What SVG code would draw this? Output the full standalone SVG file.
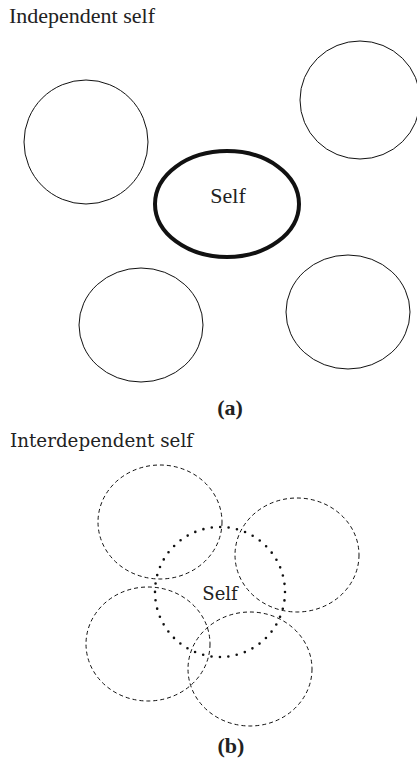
<svg xmlns="http://www.w3.org/2000/svg" width="417" height="763" viewBox="0 0 417 763">
<style>
.t{font-family:"Liberation Serif",serif;fill:#222}
.c{font-family:"DejaVu Serif",serif;fill:#222}
.o{fill:none;stroke:#111;stroke-width:1}
.d{fill:none;stroke:#111;stroke-width:1;stroke-dasharray:4 3}
</style>
<rect width="417" height="763" fill="#fff"/>
<text class="t" x="9" y="23" font-size="22">Independent self</text>
<g id="a-left"><ellipse class="o" cx="86" cy="142" rx="62" ry="62"/></g>
<g id="a-topright"><ellipse class="o" cx="360" cy="100" rx="60" ry="59"/></g>
<g id="a-self"><ellipse cx="227" cy="204" rx="72" ry="53" fill="none" stroke="#111" stroke-width="4"/><text class="t" x="228" y="203" font-size="22" text-anchor="middle">Self</text></g>
<g id="a-bottomleft"><ellipse class="o" cx="141" cy="325" rx="62" ry="57"/></g>
<g id="a-bottomright"><ellipse class="o" cx="348" cy="312" rx="62" ry="57"/></g>
<text class="t" x="230" y="415" font-size="22" font-weight="bold" text-anchor="middle">(a)</text>
<text class="c" x="10" y="447" font-size="18" textLength="183" lengthAdjust="spacingAndGlyphs">Interdependent self</text>
<g id="b-topleft"><ellipse class="d" cx="160" cy="522" rx="62" ry="57"/></g>
<g id="b-right"><ellipse class="d" cx="297" cy="555" rx="62" ry="57"/></g>
<g id="b-bottomleft"><ellipse class="d" cx="148" cy="644" rx="62" ry="57"/></g>
<g id="b-bottom"><ellipse class="d" cx="250" cy="669" rx="62" ry="57"/></g>
<g id="b-self"><ellipse cx="220" cy="592" rx="65" ry="65" fill="none" stroke="#111" stroke-width="2.6" stroke-linecap="round" stroke-dasharray="0 8.5"/><text class="c" x="220" y="600" font-size="18" text-anchor="middle">Self</text></g>
<text class="t" x="231" y="753" font-size="22" font-weight="bold" text-anchor="middle">(b)</text>
</svg>
